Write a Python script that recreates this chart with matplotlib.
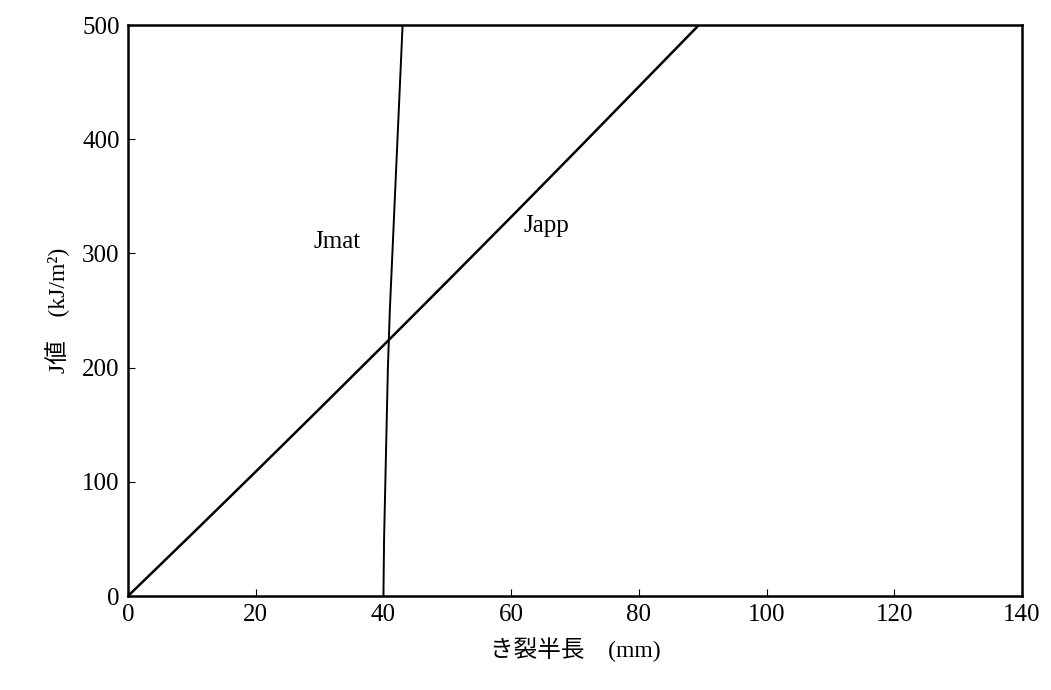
import matplotlib
matplotlib.use('Agg')
import matplotlib.pyplot as plt

# applied J (Japp) vs half crack length
japp_a = [0, 10, 20, 30, 40, 50, 60, 70, 80, 89.4]
japp_j = [0, 54.2, 108.9, 164.0, 219.5, 275.5, 331.9, 388.8, 446.1, 500]

# material J (Jmat) vs half crack length
jmat_a = [40.0, 40.1, 40.3, 40.5, 40.7, 41.0, 41.4, 41.8, 42.2, 42.6, 43.0]
jmat_j = [0, 50, 100, 150, 200, 250, 300, 350, 400, 450, 500]

xticks = [0, 20, 40, 60, 80, 100, 120, 140]
yticks = [0, 100, 200, 300, 400, 500]

fonts = ['Liberation Serif', 'Noto Sans CJK JP', 'DejaVu Sans']
plt.rcParams['font.family'] = fonts

fig = plt.figure(figsize=(10.51, 6.90), dpi=100)
ax = fig.add_axes([0.1218, 0.1362, 0.8506, 0.8275])

ax.plot(japp_a, japp_j, color='black', lw=1.8)
ax.plot(jmat_a, jmat_j, color='black', lw=1.4)

ax.set_xlim(0, 140)
ax.set_ylim(0, 500)
ax.set_xticks(xticks)
ax.set_yticks(yticks)
ax.tick_params(direction='in', length=5, width=0.8, labelsize=18, pad=6)
for s in ax.spines.values():
    s.set_linewidth(1.8)

ax.text(29, 310, 'Jmat', fontsize=18, va='center', ha='left')
ax.text(62, 324, 'Japp', fontsize=18, va='center', ha='left')

ax.set_xlabel('き裂半長\u3000(mm)', fontsize=17, labelpad=8)
ax.set_ylabel('J値\u3000(kJ/m²)', fontsize=17, labelpad=9)

plt.savefig('out.png', dpi=100)
